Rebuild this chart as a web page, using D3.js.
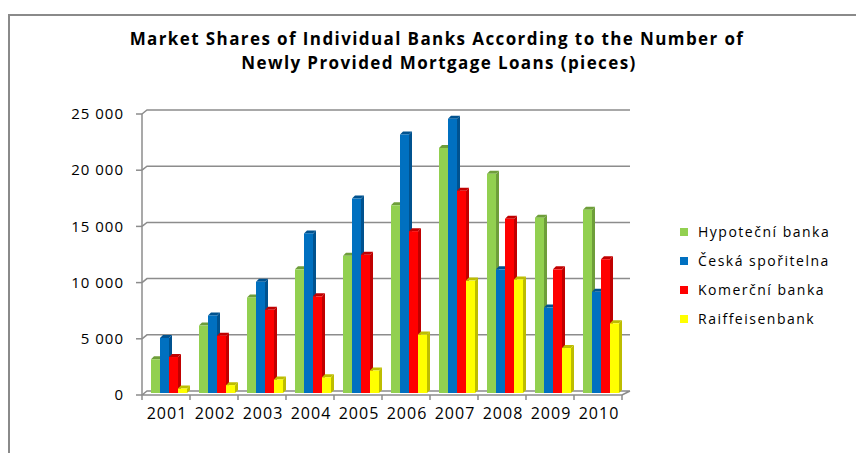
<!DOCTYPE html>
<html>
<head>
<meta charset="utf-8">
<script src="https://cdn.jsdelivr.net/npm/d3@7"></script>
<style>
  body { margin: 0; background: #fff; }
  text { font-family: "Open Sans", sans-serif; fill: #000; }
</style>
</head>
<body>
<div id="chart"></div>
<script>
// Data
const years = ["2001", "2002", "2003", "2004", "2005", "2006", "2007", "2008", "2009", "2010"];
const banks = ["Hypoteční banka", "Česká spořitelna", "Komerční banka", "Raiffeisenbank"];
const hypotecni = [3000, 6000, 8500, 11000, 12200, 16700, 21800, 19500, 15600, 16300];
const ceska     = [4900, 6900, 9900, 14200, 17300, 23000, 24400, 11000, 7600, 9000];
const komercni  = [3200, 5100, 7400, 8600, 12300, 14400, 18000, 15500, 11000, 11900];
const raiff     = [400, 700, 1200, 1400, 2000, 5200, 10000, 10100, 4000, 6200];
const yTicks = [0, 5000, 10000, 15000, 20000, 25000];

const series = [hypotecni, ceska, komercni, raiff];
const colors = ["#92D050", "#0070C0", "#FF0000", "#FFFF00"];
const sideColors = ["#6E9E3A", "#00528F", "#C00000", "#BDBD00"];

const width = 856, height = 453;
const svg = d3.select("#chart").append("svg")
    .attr("width", width)
    .attr("height", height);

// Outer chart frame (top and left edges only are visible)
svg.append("path")
    .attr("d", "M9,453 V15 H856")
    .attr("fill", "none")
    .attr("stroke", "#8a8a8a")
    .attr("stroke-width", 2);

// Title
svg.append("text")
    .attr("x", 437).attr("y", 45)
    .attr("text-anchor", "middle")
    .style("font-size", "17px").style("font-weight", "bold")
    .style("letter-spacing", "1.4px")
    .text("Market Shares of Individual Banks According to the Number of");
svg.append("text")
    .attr("x", 439).attr("y", 69)
    .attr("text-anchor", "middle")
    .style("font-size", "17px").style("font-weight", "bold")
    .style("letter-spacing", "1.4px")
    .text("Newly Provided Mortgage Loans (pieces)");

// Geometry of the pseudo-3D plot
const left = 142, right = 622;     // front edge
const wallDx = 5, wallDy = -4;     // depth shift of the back wall
const barDepth = 3;

const x = d3.scaleBand().domain(years).range([left, right]);
const yBack = d3.scaleLinear().domain([0, 25000]).range([391, 110]);
const yBar = d3.scaleLinear().domain([0, 25000]).range([393, 112]);

const grey = "#8c8c8c";

// Gridlines on back wall + diagonal to the left axis
yTicks.forEach(t => {
    const yb = yBack(t);
    if (t > 0) {
        svg.append("path")
            .attr("d", `M${left},${yb - wallDy} L${left + wallDx},${yb} H${right + 8}`)
            .attr("fill", "none").attr("stroke", grey).attr("stroke-width", 1.5);
    }
    // tick mark on front axis
    svg.append("line")
        .attr("x1", left - 6).attr("x2", left)
        .attr("y1", yb - wallDy).attr("y2", yb - wallDy)
        .attr("stroke", grey).attr("stroke-width", 1.5);
    svg.append("text")
        .attr("x", left - 18).attr("y", yb - wallDy)
        .attr("dy", "0.35em")
        .attr("text-anchor", "end")
        .style("font-size", "15px")
        .style("letter-spacing", "1px")
        .text(d3.format(",")(t).replace(",", " "));
});

// Left wall edge
svg.append("line")
    .attr("x1", left).attr("x2", left)
    .attr("y1", yBack(25000) - wallDy).attr("y2", yBack(0) - wallDy)
    .attr("stroke", grey).attr("stroke-width", 1.5);

// Floor
svg.append("path")
    .attr("d", `M${left},${yBack(0) - wallDy} H${right} L${right + 8},${yBack(0)} M${left},${yBack(0) - wallDy} L${left + wallDx},${yBack(0)} H${right + 8}`)
    .attr("fill", "none").attr("stroke", grey).attr("stroke-width", 1.5);

// Category ticks
x.domain().concat(["end"]).forEach((yr, i) => {
    const xt = left + i * x.bandwidth();
    svg.append("line")
        .attr("x1", xt).attr("x2", xt)
        .attr("y1", yBack(0) - wallDy).attr("y2", yBack(0) - wallDy + 5)
        .attr("stroke", grey).attr("stroke-width", 1.5);
});

// Bars
const barW = 9;
const groupOffset = 9;
series.forEach((vals, s) => {
    const g = svg.append("g");
    vals.forEach((v, i) => {
        const x0 = x(years[i]) + groupOffset + s * barW;
        const x1 = x0 + barW;
        const yt = yBar(v), yb = yBar(0);
        const d = barDepth;
        // side
        g.append("path")
            .attr("d", `M${x1},${yt} L${x1 + d},${yt - d} V${yb - d} L${x1},${yb} Z`)
            .attr("fill", sideColors[s]);
        // top
        g.append("path")
            .attr("d", `M${x0},${yt} L${x0 + d},${yt - d} H${x1 + d} L${x1},${yt} Z`)
            .attr("fill", sideColors[s]);
        // front
        g.append("rect")
            .attr("x", x0).attr("y", yt)
            .attr("width", barW).attr("height", yb - yt)
            .attr("fill", colors[s]);
    });
});

// X labels
years.forEach(yr => {
    svg.append("text")
        .attr("x", x(yr) + x.bandwidth() / 2 + 1)
        .attr("y", 419)
        .attr("text-anchor", "middle")
        .style("font-size", "16px")
        .style("letter-spacing", "1px")
        .text(yr);
});

// Legend
banks.forEach((b, i) => {
    const ly = 232 + i * 29;
    svg.append("rect")
        .attr("x", 680).attr("y", ly - 4)
        .attr("width", 8).attr("height", 8)
        .attr("fill", colors[i]);
    svg.append("text")
        .attr("x", 698).attr("y", ly)
        .attr("dy", "0.35em")
        .style("font-size", "14px")
        .style("letter-spacing", "1.5px")
        .text(b);
});
</script>
</body>
</html>
